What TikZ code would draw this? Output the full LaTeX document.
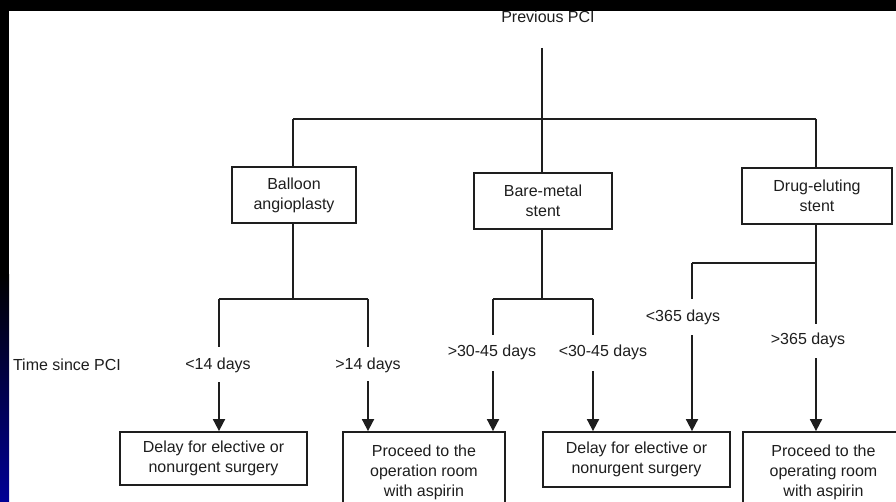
\documentclass[tikz,border=0pt]{standalone}
\usepackage{fontspec}
\setmainfont{Liberation Sans}
\usetikzlibrary{arrows.meta}
\definecolor{barblue}{RGB}{0,0,150}
\definecolor{ink}{RGB}{30,30,30}
\tikzset{
  box/.style={draw=ink, line width=1.8pt, fill=white, align=center, inner sep=0pt,
    text=ink, font=\fontsize{16}{20}\selectfont},
  lbl/.style={text=ink, inner sep=0pt, font=\fontsize{16}{20}\selectfont},
  conn/.style={draw=ink, line width=1.8pt},
  arr/.style={conn, -{Triangle[width=12pt,length=12pt]}},
}
\begin{document}
\begin{tikzpicture}[x=1pt,y=-1pt]
\useasboundingbox (0,0) rectangle (896,502);
\clip (0,0) rectangle (896,502);
\fill[white] (0,0) rectangle (896,502);
\fill[black] (0,0) rectangle (896,11);
\fill[black] (0,0) rectangle (9,275);
\shade[top color=black, bottom color=barblue] (0,275) rectangle (9,502);

% title
\node[lbl] (prev) at (548,17) {Previous PCI};
\coordinate (ptop) at (542,48);
\coordinate (hub) at (542,119);
\coordinate (hl) at (293,119);
\coordinate (hr) at (816,119);

% first level boxes
\node[box, minimum width=124pt, minimum height=56pt] (ball) at (294,195) {Balloon\\angioplasty};
\node[box, minimum width=138pt, minimum height=56pt] (bare) at (543,201) {Bare-metal\\stent};
\node[box, minimum width=150pt, minimum height=56pt] (drug) at (817,196) {Drug-eluting\\stent};

\draw[conn] (ptop) -- (hub);
\draw[conn] (hl) -- (hr);
\draw[conn] (hl) -- (hl |- ball.north);
\draw[conn] (hub) -- (hub |- bare.north);
\draw[conn] (hr) -- (hr |- drug.north);

% bottom boxes
\node[box, minimum width=187pt, minimum height=53pt] (d1) at (213.5,458.5) {Delay for elective or\\nonurgent surgery};
\node[box, minimum width=162pt, minimum height=80pt] (p1) at (424,472) {Proceed to the\\operation room\\with aspirin};
\node[box, minimum width=187pt, minimum height=55pt] (d2) at (636.5,459.5) {Delay for elective or\\nonurgent surgery};
\node[box, minimum width=161pt, minimum height=80pt] (p2) at (823.5,472) {Proceed to the\\operating room\\with aspirin};

% labels
\node[lbl] (time) at (67,365) {Time since PCI};
\node[lbl] (l14) at (218,365) {<14 days};
\node[lbl] (g14) at (368,365) {>14 days};
\node[lbl] (g30) at (492,352) {>30-45 days};
\node[lbl] (l30) at (603,352) {<30-45 days};
\node[lbl] (l365) at (683,317) {<365 days};
\node[lbl] (g365) at (808,340) {>365 days};

% balloon branch
\coordinate (bj) at (293,299);
\coordinate (bjl) at (219,299);
\coordinate (bjr) at (368,299);
\coordinate (bjle) at (219,347);
\coordinate (bjre) at (368,347);
\coordinate (a1) at (219,382);
\coordinate (a2) at (368,381);
\draw[conn] (ball.south -| bj) -- (bj);
\draw[conn] (bjl) -- (bjr);
\draw[conn] (bjl) -- (bjle);
\draw[conn] (bjr) -- (bjre);
\draw[arr] (a1) -- (a1 |- d1.north);
\draw[arr] (a2) -- (a2 |- p1.north);

% bare-metal branch
\coordinate (mj) at (542,299);
\coordinate (mjl) at (493,299);
\coordinate (mjr) at (593,299);
\coordinate (mjle) at (493,335);
\coordinate (mjre) at (593,335);
\coordinate (a3) at (493,371);
\coordinate (a4) at (593,371);
\draw[conn] (bare.south -| mj) -- (mj);
\draw[conn] (mjl) -- (mjr);
\draw[conn] (mjl) -- (mjle);
\draw[conn] (mjr) -- (mjre);
\draw[arr] (a3) -- (a3 |- p1.north);
\draw[arr] (a4) -- (a4 |- d2.north);

% drug-eluting branch
\coordinate (dj) at (816,263);
\coordinate (djl) at (692,263);
\coordinate (dje) at (816,324);
\coordinate (djle) at (692,299);
\coordinate (a5) at (692,335);
\coordinate (a6) at (816,358);
\draw[conn] (drug.south -| dj) -- (dje);
\draw[conn] (djl) -- (dj);
\draw[conn] (djl) -- (djle);
\draw[arr] (a5) -- (a5 |- d2.north);
\draw[arr] (a6) -- (a6 |- p2.north);
\end{tikzpicture}
\end{document}
